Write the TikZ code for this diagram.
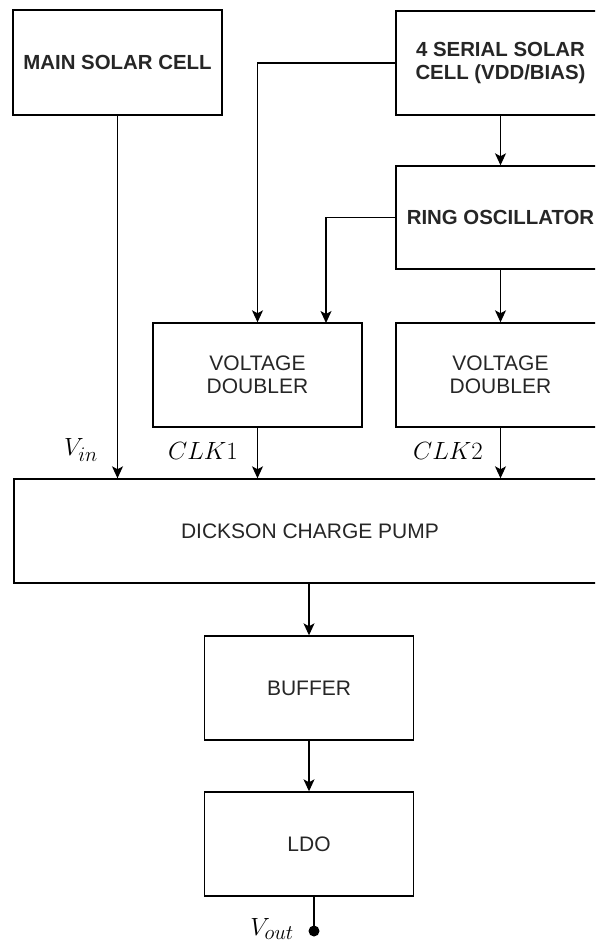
\documentclass[tikz,border=0pt]{standalone}
\usepackage{fontspec}
\setmainfont{Liberation Sans}
\usetikzlibrary{arrows.meta,calc}
\begin{document}
\begin{tikzpicture}[x=1pt,y=-1pt,
  blk/.style={draw=black,line width=1.4pt,rectangle,minimum width=209pt,minimum height=104pt,inner sep=0pt,align=center,text=black!85,font=\fontsize{21}{23}\selectfont},
  bblk/.style={blk,font=\fontsize{20.4}{23.5}\selectfont\bfseries},
  arr/.style={line width=1.3pt,-{Stealth[length=12pt,width=11pt,inset=3pt]}},
  ln/.style={line width=1.3pt},
  lbl/.style={inner sep=0pt,font=\Huge}]
\useasboundingbox (0,0) rectangle (595,942);
\clip (0,0) rectangle (595,942);
\fill[white] (0,0) rectangle (595,942);
% blocks
\node[bblk,minimum height=105pt] (main) at (117.5,62.5) {MAIN SOLAR CELL};
\node[bblk] (ser) at (500.5,63) {4 SERIAL SOLAR\\CELL (VDD/BIAS)};
\node[bblk,minimum height=103pt] (ring) at (500.5,217.5) {RING OSCILLATOR};
\node[blk] (vd1) at (257.5,375) {VOLTAGE\\DOUBLER};
\node[blk] (vd2) at (500.5,375) {VOLTAGE\\DOUBLER};
\node[blk,minimum width=592pt] (dick) at (310,531) {DICKSON CHARGE PUMP};
\node[blk] (buf) at (309,688) {BUFFER};
\node[blk] (ldo) at (309,844) {LDO};
% helper coordinates
\coordinate (rx) at (326,323);
\coordinate (vo) at (314,931);
% connectors
\draw[arr] (main.south) -- (main.south |- dick.north);
\draw[arr] (ser.west) -| (vd1.north);
\draw[arr] (ser.south) -- (ring.north);
\draw[arr] (ring.west) -| (rx);
\draw[arr] (ring.south) -- (vd2.north);
\draw[arr] (vd1.south) -- (vd1.south |- dick.north);
\draw[arr] (vd2.south) -- (vd2.south |- dick.north);
\draw[arr] (dick.south -| buf.north) -- (buf.north);
\draw[arr] (buf.south) -- (ldo.north);
\draw[ln] (ldo.south -| vo) -- (vo);
\fill (vo) circle (5.5pt);
% labels
\node[lbl,anchor=east] (vin) at (98,450) {$V_{in}$};
\node[lbl,anchor=east] (clk1) at (238,451) {$CLK1$};
\node[lbl,anchor=east] (clk2) at (483,451) {$CLK2$};
\node[lbl,anchor=east] (vout) at (294,929) {$V_{out}$};
\end{tikzpicture}
\end{document}
